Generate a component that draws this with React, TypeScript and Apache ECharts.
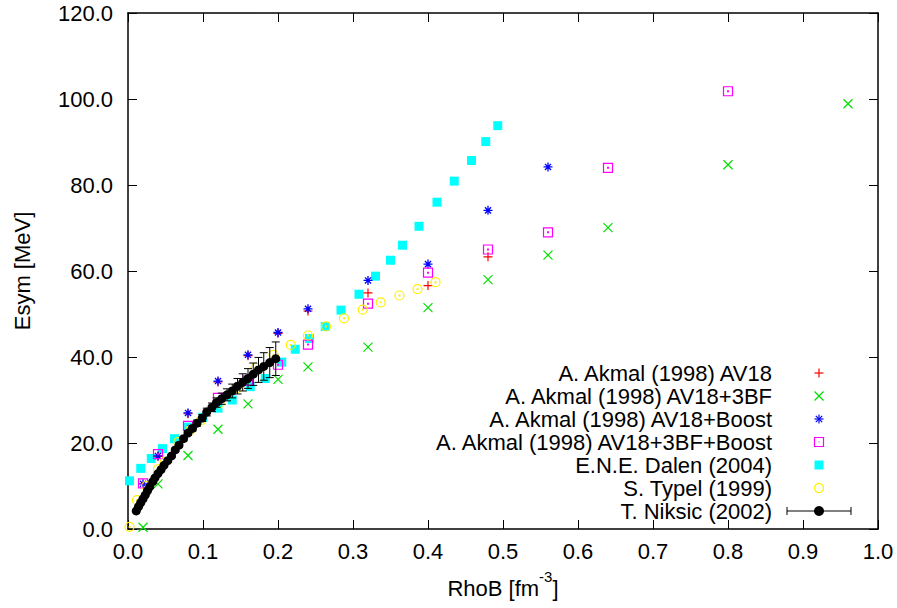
import React, { useEffect, useRef } from "react";
import * as echarts from "echarts";

// ---- data ----
const xTicks = [0, 0.1, 0.2, 0.3, 0.4, 0.5, 0.6, 0.7, 0.8, 0.9, 1.0];
const yTicks = [0, 20, 40, 60, 80, 100, 120];

const av18X = [0.04, 0.08, 0.12, 0.16, 0.2, 0.24, 0.32, 0.4, 0.48];
const av18Y = [16.9, 26.8, 34.2, 40.3, 45.5, 50.7, 54.9, 56.6, 63.3];

const av18_3bfX = [0.02, 0.04, 0.08, 0.12, 0.16, 0.2, 0.24, 0.32, 0.4, 0.48, 0.56, 0.64, 0.8, 0.96];
const av18_3bfY = [0.4, 10.5, 17.1, 23.2, 29.1, 34.8, 37.7, 42.3, 51.5, 58.0, 63.7, 70.1, 84.7, 98.9];

const av18BoostX = [0.02, 0.04, 0.08, 0.12, 0.16, 0.2, 0.24, 0.32, 0.4, 0.48, 0.56];
const av18BoostY = [10.5, 17.0, 27.0, 34.4, 40.5, 45.7, 51.2, 57.8, 61.6, 74.1, 84.2];

const av18_3bfBoostX = [0.02, 0.04, 0.08, 0.12, 0.16, 0.2, 0.24, 0.32, 0.4, 0.48, 0.56, 0.64, 0.8];
const av18_3bfBoostY = [10.6, 17.4, 24.0, 30.5, 34.5, 38.2, 42.9, 52.4, 59.6, 65.0, 69.0, 84.0, 101.8];

const dalenX = [0.002, 0.017, 0.031, 0.046, 0.062, 0.08, 0.1, 0.12, 0.139, 0.163, 0.183, 0.205, 0.223, 0.242, 0.263, 0.284, 0.308, 0.33, 0.35, 0.366, 0.388, 0.412, 0.435, 0.458, 0.477, 0.493];
const dalenY = [11.2, 14.1, 16.4, 18.7, 21.0, 23.7, 26.0, 28.1, 30.0, 33.1, 35.0, 38.8, 41.8, 44.3, 47.1, 50.9, 54.6, 58.8, 62.5, 66.0, 70.4, 76.0, 80.9, 85.7, 90.1, 93.8];

const typelX = [0.002, 0.012, 0.024, 0.04, 0.049, 0.067, 0.083, 0.097, 0.122, 0.146, 0.17, 0.194, 0.217, 0.24, 0.264, 0.288, 0.313, 0.337, 0.362, 0.386, 0.41];
const typelY = [0.5, 6.7, 10.0, 13.9, 15.6, 20.2, 23.0, 25.2, 29.2, 32.8, 37.5, 40.5, 42.8, 45.0, 47.1, 49.0, 51.0, 52.7, 54.3, 55.8, 57.4];

const niksicX = [0.011, 0.014, 0.017, 0.02, 0.023, 0.026, 0.029, 0.033, 0.036, 0.04, 0.044, 0.048, 0.053, 0.058, 0.063, 0.068, 0.074, 0.08, 0.086, 0.092, 0.099, 0.105, 0.112, 0.118, 0.125, 0.132, 0.139, 0.146, 0.153, 0.16, 0.167, 0.174, 0.181, 0.189, 0.197];
const niksicY = [4.2, 5.2, 6.1, 7.0, 7.9, 8.9, 9.8, 11.0, 11.9, 12.9, 13.8, 14.8, 15.9, 17.0, 18.4, 19.5, 21.0, 22.3, 23.4, 24.6, 25.8, 27.2, 28.3, 29.4, 30.3, 31.2, 32.1, 33.2, 34.1, 35.0, 36.0, 37.0, 37.8, 38.7, 39.6];
const niksicErr = [0.1, 0.1, 0.1, 0.15, 0.15, 0.15, 0.2, 0.2, 0.2, 0.25, 0.25, 0.3, 0.3, 0.35, 0.4, 0.45, 0.5, 0.55, 0.6, 0.7, 0.8, 0.9, 1.0, 1.1, 1.3, 1.4, 1.6, 1.8, 2.0, 2.3, 2.6, 2.9, 3.2, 3.5, 3.9];

const legendNames = [
  "A. Akmal (1998) AV18",
  "A. Akmal (1998) AV18+3BF",
  "A. Akmal (1998) AV18+Boost",
  "A. Akmal (1998) AV18+3BF+Boost",
  "E.N.E. Dalen (2004)",
  "S. Typel (1999)",
  "T. Niksic (2002)",
];

const RED = "#ff0000";
const GREEN = "#00e000";
const BLUE = "#0000ff";
const MAGENTA = "#ff00ff";
const CYAN = "#00ffff";
const YELLOW = "#ffee00";

const FONT = "'Liberation Sans', Arial, Helvetica, sans-serif";
const FS = 22;

const PLUS = "path://M0,5L10,5M5,0L5,10";
const CROSS = "path://M0,0L10,10M10,0L0,10";
const STAR = "path://M0,5L10,5M5,0L5,10M1.6,1.6L8.4,8.4M8.4,1.6L1.6,8.4";
const BOXDOT = "path://M0,0L10,0L10,10L0,10ZM4.6,4.6L5.4,4.6L5.4,5.4L4.6,5.4Z";
const CIRCDOT = "path://M0,5A5,5 0 1,1 10,5A5,5 0 1,1 0,5ZM4.6,4.6L5.4,4.6L5.4,5.4L4.6,5.4Z";

function zip(xs: number[], ys: number[]) {
  return xs.map((x, i) => [x, ys[i]]);
}

export default function App() {
  const ref = useRef<HTMLDivElement>(null);
  useEffect(() => {
    if (!ref.current) return;
    const chart = echarts.init(ref.current, null, { renderer: "svg" });

    const strokeSeries = (name: string, xs: number[], ys: number[], symbol: string, color: string, size: number, lw: number) => ({
      name,
      type: "scatter",
      data: zip(xs, ys),
      symbol,
      symbolSize: size,
      itemStyle: { color: "transparent", borderColor: color, borderWidth: lw, opacity: 1 },
      emphasis: { disabled: true },
      z: 3,
    });

    // legend graphics
    const legX = 772;
    const mk = 819;
    const rows = [373, 396, 419, 442, 465, 488, 511];
    const graphics: any[] = [];
    legendNames.forEach((n, i) => {
      graphics.push({
        type: "text",
        x: legX,
        y: rows[i],
        style: { text: n, textAlign: "right", textVerticalAlign: "middle", fontSize: FS, fontFamily: FONT, fill: "#000" },
      });
    });
    const L = (x1: number, y1: number, x2: number, y2: number, c: string, w = 1.2) => ({
      type: "line",
      shape: { x1, y1, x2, y2 },
      style: { stroke: c, lineWidth: w },
    });
    const h = 4.5;
    graphics.push(L(mk - h, rows[0], mk + h, rows[0], RED), L(mk, rows[0] - h, mk, rows[0] + h, RED));
    graphics.push(L(mk - h, rows[1] - h, mk + h, rows[1] + h, GREEN), L(mk - h, rows[1] + h, mk + h, rows[1] - h, GREEN));
    graphics.push(
      L(mk - h, rows[2], mk + h, rows[2], BLUE),
      L(mk, rows[2] - h, mk, rows[2] + h, BLUE),
      L(mk - 3.2, rows[2] - 3.2, mk + 3.2, rows[2] + 3.2, BLUE),
      L(mk - 3.2, rows[2] + 3.2, mk + 3.2, rows[2] - 3.2, BLUE)
    );
    graphics.push({ type: "rect", shape: { x: mk - h, y: rows[3] - h, width: 2 * h, height: 2 * h }, style: { fill: "none", stroke: MAGENTA, lineWidth: 1.2 } });
    graphics.push({ type: "rect", shape: { x: mk - 0.5, y: rows[3] - 0.5, width: 1, height: 1 }, style: { fill: MAGENTA } });
    graphics.push({ type: "rect", shape: { x: mk - h, y: rows[4] - h, width: 2 * h, height: 2 * h }, style: { fill: CYAN } });
    graphics.push({ type: "circle", shape: { cx: mk, cy: rows[5], r: h }, style: { fill: "none", stroke: YELLOW, lineWidth: 1.2 } });
    graphics.push({ type: "rect", shape: { x: mk - 0.5, y: rows[5] - 0.5, width: 1, height: 1 }, style: { fill: YELLOW } });
    graphics.push(
      L(787, rows[6], 851, rows[6], "#000", 1),
      L(787, rows[6] - 4, 787, rows[6] + 4, "#000", 1),
      L(851, rows[6] - 4, 851, rows[6] + 4, "#000", 1),
      { type: "circle", shape: { cx: mk, cy: rows[6], r: 5 }, style: { fill: "#000" } }
    );

    const axisCommon = {
      axisLine: { show: true, onZero: false, lineStyle: { color: "#000", width: 1.5 } },
      axisTick: { show: true, inside: true, length: 9, lineStyle: { color: "#000", width: 1 } },
      splitLine: { show: false },
    };

    const option: any = {
      animation: false,
      backgroundColor: "#fff",
      grid: { left: 128, right: 19, top: 13, bottom: 79, containLabel: false },
      xAxis: [
        {
          type: "value",
          min: xTicks[0],
          max: xTicks[xTicks.length - 1],
          interval: 0.1,
          ...axisCommon,
          axisLabel: { fontSize: FS, fontFamily: FONT, color: "#000", margin: 11, formatter: (v: number) => v.toFixed(1) },
          name: "{m|RhoB [fm}{sup|-3}{m|]}",
          nameLocation: "middle",
          nameGap: 40,
          nameTextStyle: {
            fontSize: FS,
            fontFamily: FONT,
            color: "#000",
            rich: {
              m: { fontSize: FS, fontFamily: FONT, color: "#000", verticalAlign: "bottom", lineHeight: 30 },
              sup: { fontSize: 15, fontFamily: FONT, color: "#000", verticalAlign: "top", lineHeight: 14 },
            },
          },
        },
        {
          type: "value",
          position: "top",
          min: xTicks[0],
          max: xTicks[xTicks.length - 1],
          interval: 0.1,
          ...axisCommon,
          axisLabel: { show: false },
        },
      ],
      yAxis: [
        {
          type: "value",
          min: yTicks[0],
          max: yTicks[yTicks.length - 1],
          interval: 20,
          ...axisCommon,
          axisLabel: { fontSize: FS, fontFamily: FONT, color: "#000", margin: 15, formatter: (v: number) => v.toFixed(1) },
          name: "Esym [MeV]",
          nameLocation: "middle",
          nameRotate: 90,
          nameGap: 95,
          nameTextStyle: { fontSize: FS, fontFamily: FONT, color: "#000" },
        },
        {
          type: "value",
          position: "right",
          min: yTicks[0],
          max: yTicks[yTicks.length - 1],
          interval: 20,
          ...axisCommon,
          axisLabel: { show: false },
        },
      ],
      graphic: graphics,
      series: [
        strokeSeries(legendNames[0], av18X, av18Y, PLUS, RED, 9, 1.2),
        strokeSeries(legendNames[1], av18_3bfX, av18_3bfY, CROSS, GREEN, 9, 1.2),
        strokeSeries(legendNames[2], av18BoostX, av18BoostY, STAR, BLUE, 9, 1.3),
        strokeSeries(legendNames[3], av18_3bfBoostX, av18_3bfBoostY, BOXDOT, MAGENTA, 9, 1.2),
        {
          name: legendNames[4],
          type: "scatter",
          data: zip(dalenX, dalenY),
          symbol: "rect",
          symbolSize: 9,
          itemStyle: { color: CYAN, opacity: 1 },
          emphasis: { disabled: true },
          z: 2,
        },
        strokeSeries(legendNames[5], typelX, typelY, CIRCDOT, YELLOW, 9, 1.2),
        {
          name: legendNames[6] + " err",
          type: "custom",
          data: niksicX.map((x, i) => [x, niksicY[i], niksicErr[i]]),
          renderItem: (params: any, api: any) => {
            const x = api.value(0);
            const y = api.value(1);
            const e = api.value(2);
            const top = api.coord([x, y + e]);
            const bot = api.coord([x, y - e]);
            const cw = 4;
            return {
              type: "group",
              children: [
                { type: "line", shape: { x1: top[0], y1: top[1], x2: bot[0], y2: bot[1] }, style: { stroke: "#000", lineWidth: 1 } },
                { type: "line", shape: { x1: top[0] - cw, y1: top[1], x2: top[0] + cw, y2: top[1] }, style: { stroke: "#000", lineWidth: 1 } },
                { type: "line", shape: { x1: bot[0] - cw, y1: bot[1], x2: bot[0] + cw, y2: bot[1] }, style: { stroke: "#000", lineWidth: 1 } },
              ],
            };
          },
          z: 4,
        },
        {
          name: legendNames[6],
          type: "scatter",
          data: zip(niksicX, niksicY),
          symbol: "circle",
          symbolSize: 9,
          itemStyle: { color: "#000", opacity: 1 },
          emphasis: { disabled: true },
          z: 5,
        },
      ],
    };
    chart.setOption(option);
    return () => chart.dispose();
  }, []);
  return <div ref={ref} style={{ width: 897, height: 608, position: "absolute", left: 0, top: 0 }} />;
}
